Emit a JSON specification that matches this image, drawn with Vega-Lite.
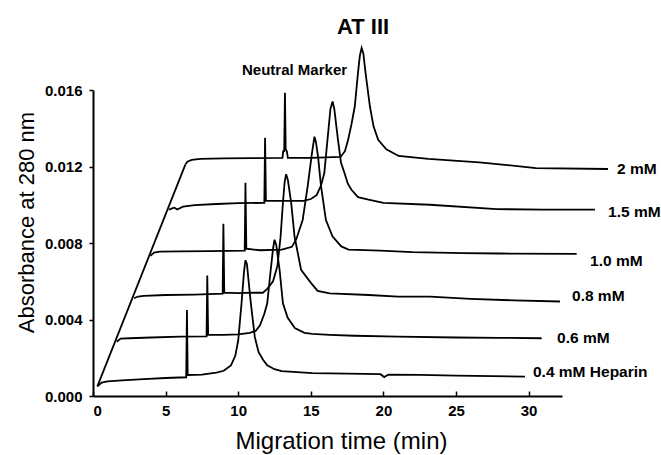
{
  "$schema": "https://vega.github.io/schema/vega-lite/v6.json",
  "width": 469,
  "height": 306,
  "autosize": {"type": "none"},
  "padding": {"left": 93, "top": 90, "right": 99, "bottom": 59},
  "background": "white",
  "title": {"text": "AT III", "anchor": "start", "frame": "group", "dx": 244, "dy": 27, "offset": 15, "baseline": "alphabetic", "fontSize": 22, "fontWeight": "bold", "font": "Liberation Sans", "color": "black"},
  "config": {"view": {"stroke": null}, "font": "Liberation Sans"},
  "datasets": {
    "traces": [
      {"trace": "start", "t": 0.3, "a": 0.0005},
      {"trace": "start", "t": 6.36, "a": 0.0121},

      {"trace": "0.4 mM", "t": 0.3, "a": 0.0005},
      {"trace": "0.4 mM", "t": 0.6, "a": 0.0007},
      {"trace": "0.4 mM", "t": 1.0, "a": 0.00076},
      {"trace": "0.4 mM", "t": 2.0, "a": 0.00082},
      {"trace": "0.4 mM", "t": 3.5, "a": 0.00088},
      {"trace": "0.4 mM", "t": 5.0, "a": 0.00094},
      {"trace": "0.4 mM", "t": 6.42, "a": 0.00098},
      {"trace": "0.4 mM", "t": 6.47, "a": 0.0045},
      {"trace": "0.4 mM", "t": 6.52, "a": 0.0011},
      {"trace": "0.4 mM", "t": 7.5, "a": 0.00112},
      {"trace": "0.4 mM", "t": 8.5, "a": 0.00122},
      {"trace": "0.4 mM", "t": 9.0, "a": 0.00132},
      {"trace": "0.4 mM", "t": 9.5, "a": 0.0016},
      {"trace": "0.4 mM", "t": 9.8, "a": 0.0021},
      {"trace": "0.4 mM", "t": 10.0, "a": 0.0029},
      {"trace": "0.4 mM", "t": 10.23, "a": 0.00485},
      {"trace": "0.4 mM", "t": 10.4, "a": 0.0065},
      {"trace": "0.4 mM", "t": 10.5, "a": 0.0071},
      {"trace": "0.4 mM", "t": 10.6, "a": 0.0069},
      {"trace": "0.4 mM", "t": 10.87, "a": 0.00485},
      {"trace": "0.4 mM", "t": 11.14, "a": 0.0031},
      {"trace": "0.4 mM", "t": 11.4, "a": 0.0023},
      {"trace": "0.4 mM", "t": 11.71, "a": 0.0019},
      {"trace": "0.4 mM", "t": 12.0, "a": 0.0016},
      {"trace": "0.4 mM", "t": 12.5, "a": 0.0014},
      {"trace": "0.4 mM", "t": 13.0, "a": 0.0013},
      {"trace": "0.4 mM", "t": 15.1, "a": 0.0012},
      {"trace": "0.4 mM", "t": 17.5, "a": 0.00117},
      {"trace": "0.4 mM", "t": 19.8, "a": 0.00114},
      {"trace": "0.4 mM", "t": 20.05, "a": 0.00099},
      {"trace": "0.4 mM", "t": 20.35, "a": 0.00112},
      {"trace": "0.4 mM", "t": 22.5, "a": 0.0011},
      {"trace": "0.4 mM", "t": 25.0, "a": 0.00107},
      {"trace": "0.4 mM", "t": 27.5, "a": 0.00104},
      {"trace": "0.4 mM", "t": 29.75, "a": 0.00101},

      {"trace": "0.6 mM", "t": 1.64, "a": 0.00284},
      {"trace": "0.6 mM", "t": 1.9, "a": 0.003},
      {"trace": "0.6 mM", "t": 2.5, "a": 0.00302},
      {"trace": "0.6 mM", "t": 4.0, "a": 0.00306},
      {"trace": "0.6 mM", "t": 6.0, "a": 0.0031},
      {"trace": "0.6 mM", "t": 7.82, "a": 0.00312},
      {"trace": "0.6 mM", "t": 7.87, "a": 0.0063},
      {"trace": "0.6 mM", "t": 7.93, "a": 0.0032},
      {"trace": "0.6 mM", "t": 9.0, "a": 0.0032},
      {"trace": "0.6 mM", "t": 10.0, "a": 0.00322},
      {"trace": "0.6 mM", "t": 10.8, "a": 0.0033},
      {"trace": "0.6 mM", "t": 11.2, "a": 0.0034},
      {"trace": "0.6 mM", "t": 11.5, "a": 0.0037},
      {"trace": "0.6 mM", "t": 11.8, "a": 0.0043},
      {"trace": "0.6 mM", "t": 12.0, "a": 0.00485},
      {"trace": "0.6 mM", "t": 12.24, "a": 0.0066},
      {"trace": "0.6 mM", "t": 12.4, "a": 0.0077},
      {"trace": "0.6 mM", "t": 12.5, "a": 0.00817},
      {"trace": "0.6 mM", "t": 12.62, "a": 0.0079},
      {"trace": "0.6 mM", "t": 12.85, "a": 0.0066},
      {"trace": "0.6 mM", "t": 13.08, "a": 0.00485},
      {"trace": "0.6 mM", "t": 13.4, "a": 0.0041},
      {"trace": "0.6 mM", "t": 13.9, "a": 0.00355},
      {"trace": "0.6 mM", "t": 14.56, "a": 0.0033},
      {"trace": "0.6 mM", "t": 15.1, "a": 0.00325},
      {"trace": "0.6 mM", "t": 16.3, "a": 0.0032},
      {"trace": "0.6 mM", "t": 18.0, "a": 0.00315},
      {"trace": "0.6 mM", "t": 21.0, "a": 0.0031},
      {"trace": "0.6 mM", "t": 25.0, "a": 0.00306},
      {"trace": "0.6 mM", "t": 28.0, "a": 0.00304},
      {"trace": "0.6 mM", "t": 30.9, "a": 0.00302},

      {"trace": "0.8 mM", "t": 2.83, "a": 0.00511},
      {"trace": "0.8 mM", "t": 3.1, "a": 0.0052},
      {"trace": "0.8 mM", "t": 3.5, "a": 0.00524},
      {"trace": "0.8 mM", "t": 5.0, "a": 0.00528},
      {"trace": "0.8 mM", "t": 7.0, "a": 0.0053},
      {"trace": "0.8 mM", "t": 8.93, "a": 0.00535},
      {"trace": "0.8 mM", "t": 8.98, "a": 0.009},
      {"trace": "0.8 mM", "t": 9.04, "a": 0.0054},
      {"trace": "0.8 mM", "t": 10.0, "a": 0.00538},
      {"trace": "0.8 mM", "t": 11.0, "a": 0.0054},
      {"trace": "0.8 mM", "t": 11.7, "a": 0.0054},
      {"trace": "0.8 mM", "t": 12.0, "a": 0.0056},
      {"trace": "0.8 mM", "t": 12.4, "a": 0.006},
      {"trace": "0.8 mM", "t": 12.7, "a": 0.0068},
      {"trace": "0.8 mM", "t": 12.92, "a": 0.00834},
      {"trace": "0.8 mM", "t": 13.08, "a": 0.0101},
      {"trace": "0.8 mM", "t": 13.2, "a": 0.0112},
      {"trace": "0.8 mM", "t": 13.3, "a": 0.0116},
      {"trace": "0.8 mM", "t": 13.42, "a": 0.0113},
      {"trace": "0.8 mM", "t": 13.65, "a": 0.0101},
      {"trace": "0.8 mM", "t": 13.88, "a": 0.00834},
      {"trace": "0.8 mM", "t": 14.33, "a": 0.0066},
      {"trace": "0.8 mM", "t": 15.02, "a": 0.0059},
      {"trace": "0.8 mM", "t": 15.47, "a": 0.0055},
      {"trace": "0.8 mM", "t": 16.3, "a": 0.00537},
      {"trace": "0.8 mM", "t": 19.0, "a": 0.00528},
      {"trace": "0.8 mM", "t": 21.0, "a": 0.0052},
      {"trace": "0.8 mM", "t": 23.2, "a": 0.0052},
      {"trace": "0.8 mM", "t": 26.0, "a": 0.00508},
      {"trace": "0.8 mM", "t": 29.0, "a": 0.005},
      {"trace": "0.8 mM", "t": 32.16, "a": 0.00494},

      {"trace": "1.0 mM", "t": 3.96, "a": 0.00733},
      {"trace": "1.0 mM", "t": 4.2, "a": 0.0075},
      {"trace": "1.0 mM", "t": 4.6, "a": 0.00755},
      {"trace": "1.0 mM", "t": 6.0, "a": 0.00756},
      {"trace": "1.0 mM", "t": 8.0, "a": 0.00758},
      {"trace": "1.0 mM", "t": 10.45, "a": 0.0076},
      {"trace": "1.0 mM", "t": 10.5, "a": 0.01115},
      {"trace": "1.0 mM", "t": 10.56, "a": 0.0077},
      {"trace": "1.0 mM", "t": 11.5, "a": 0.00762},
      {"trace": "1.0 mM", "t": 13.0, "a": 0.00765},
      {"trace": "1.0 mM", "t": 13.7, "a": 0.0078},
      {"trace": "1.0 mM", "t": 14.0, "a": 0.0082},
      {"trace": "1.0 mM", "t": 14.44, "a": 0.0092},
      {"trace": "1.0 mM", "t": 14.79, "a": 0.011},
      {"trace": "1.0 mM", "t": 15.08, "a": 0.0127},
      {"trace": "1.0 mM", "t": 15.25, "a": 0.01356},
      {"trace": "1.0 mM", "t": 15.35, "a": 0.0133},
      {"trace": "1.0 mM", "t": 15.5, "a": 0.0125},
      {"trace": "1.0 mM", "t": 15.7, "a": 0.011},
      {"trace": "1.0 mM", "t": 16.04, "a": 0.0092},
      {"trace": "1.0 mM", "t": 16.5, "a": 0.00834},
      {"trace": "1.0 mM", "t": 17.1, "a": 0.00782},
      {"trace": "1.0 mM", "t": 17.6, "a": 0.00765},
      {"trace": "1.0 mM", "t": 19.8, "a": 0.0076},
      {"trace": "1.0 mM", "t": 22.0, "a": 0.00752},
      {"trace": "1.0 mM", "t": 25.5, "a": 0.00747},
      {"trace": "1.0 mM", "t": 28.0, "a": 0.00745},
      {"trace": "1.0 mM", "t": 33.31, "a": 0.00743},

      {"trace": "1.5 mM", "t": 5.22, "a": 0.00974},
      {"trace": "1.5 mM", "t": 5.4, "a": 0.0098},
      {"trace": "1.5 mM", "t": 5.6, "a": 0.00985},
      {"trace": "1.5 mM", "t": 5.8, "a": 0.00975},
      {"trace": "1.5 mM", "t": 6.2, "a": 0.0099},
      {"trace": "1.5 mM", "t": 7.0, "a": 0.00998},
      {"trace": "1.5 mM", "t": 8.5, "a": 0.01004},
      {"trace": "1.5 mM", "t": 10.0, "a": 0.01008},
      {"trace": "1.5 mM", "t": 11.8, "a": 0.0101},
      {"trace": "1.5 mM", "t": 11.85, "a": 0.0135},
      {"trace": "1.5 mM", "t": 11.91, "a": 0.0102},
      {"trace": "1.5 mM", "t": 13.0, "a": 0.0102},
      {"trace": "1.5 mM", "t": 14.5, "a": 0.0102},
      {"trace": "1.5 mM", "t": 15.0, "a": 0.0103},
      {"trace": "1.5 mM", "t": 15.4, "a": 0.0105},
      {"trace": "1.5 mM", "t": 15.7, "a": 0.011},
      {"trace": "1.5 mM", "t": 15.93, "a": 0.01166},
      {"trace": "1.5 mM", "t": 16.15, "a": 0.0134},
      {"trace": "1.5 mM", "t": 16.35, "a": 0.015},
      {"trace": "1.5 mM", "t": 16.5, "a": 0.0154},
      {"trace": "1.5 mM", "t": 16.62, "a": 0.015},
      {"trace": "1.5 mM", "t": 16.87, "a": 0.0134},
      {"trace": "1.5 mM", "t": 17.08, "a": 0.0122},
      {"trace": "1.5 mM", "t": 17.32, "a": 0.01166},
      {"trace": "1.5 mM", "t": 17.55, "a": 0.0111},
      {"trace": "1.5 mM", "t": 17.8, "a": 0.01078},
      {"trace": "1.5 mM", "t": 18.25, "a": 0.0104},
      {"trace": "1.5 mM", "t": 19.05, "a": 0.01026},
      {"trace": "1.5 mM", "t": 20.0, "a": 0.0101},
      {"trace": "1.5 mM", "t": 23.2, "a": 0.01},
      {"trace": "1.5 mM", "t": 27.8, "a": 0.00977},
      {"trace": "1.5 mM", "t": 31.0, "a": 0.00975},
      {"trace": "1.5 mM", "t": 34.57, "a": 0.00974},

      {"trace": "2 mM", "t": 6.36, "a": 0.0121},
      {"trace": "2 mM", "t": 6.5, "a": 0.01225},
      {"trace": "2 mM", "t": 6.8, "a": 0.01235},
      {"trace": "2 mM", "t": 7.4, "a": 0.0124},
      {"trace": "2 mM", "t": 9.0, "a": 0.01242},
      {"trace": "2 mM", "t": 11.0, "a": 0.01244},
      {"trace": "2 mM", "t": 13.05, "a": 0.01245},
      {"trace": "2 mM", "t": 13.1, "a": 0.0128},
      {"trace": "2 mM", "t": 13.17, "a": 0.0128},
      {"trace": "2 mM", "t": 13.22, "a": 0.01585},
      {"trace": "2 mM", "t": 13.27, "a": 0.0129},
      {"trace": "2 mM", "t": 13.35, "a": 0.0128},
      {"trace": "2 mM", "t": 13.42, "a": 0.01245},
      {"trace": "2 mM", "t": 15.0, "a": 0.01245},
      {"trace": "2 mM", "t": 17.05, "a": 0.0125},
      {"trace": "2 mM", "t": 17.35, "a": 0.0128},
      {"trace": "2 mM", "t": 17.57, "a": 0.0134},
      {"trace": "2 mM", "t": 17.8, "a": 0.0142},
      {"trace": "2 mM", "t": 18.03, "a": 0.01515},
      {"trace": "2 mM", "t": 18.25, "a": 0.0169},
      {"trace": "2 mM", "t": 18.38, "a": 0.0178},
      {"trace": "2 mM", "t": 18.5, "a": 0.0182},
      {"trace": "2 mM", "t": 18.62, "a": 0.0179},
      {"trace": "2 mM", "t": 18.77, "a": 0.0169},
      {"trace": "2 mM", "t": 19.07, "a": 0.01515},
      {"trace": "2 mM", "t": 19.32, "a": 0.0141},
      {"trace": "2 mM", "t": 19.64, "a": 0.0134},
      {"trace": "2 mM", "t": 20.2, "a": 0.0129},
      {"trace": "2 mM", "t": 21.05, "a": 0.01255},
      {"trace": "2 mM", "t": 23.1, "a": 0.0124},
      {"trace": "2 mM", "t": 26.6, "a": 0.01222},
      {"trace": "2 mM", "t": 30.5, "a": 0.01192},
      {"trace": "2 mM", "t": 35.47, "a": 0.01187}
    ],
    "labels": [
      {"label": "2 mM", "t": 36.09, "a": 0.01188},
      {"label": "1.5 mM", "t": 35.47, "a": 0.00963},
      {"label": "1.0 mM", "t": 34.23, "a": 0.00707},
      {"label": "0.8 mM", "t": 32.99, "a": 0.00524},
      {"label": "0.6 mM", "t": 31.96, "a": 0.00304},
      {"label": "0.4 mM Heparin", "t": 30.3, "a": 0.00126}
    ],
    "notes": [
      {"note": "Neutral Marker", "t": 13.88, "a": 0.01702}
    ]
  },
  "layer": [
    {
      "data": {"name": "traces"},
      "mark": {"type": "line", "color": "black", "strokeWidth": 1.8, "clip": false},
      "encoding": {
        "x": {
          "field": "t", "type": "quantitative",
          "scale": {"domain": [0, 32.3], "nice": false, "zero": false},
          "axis": {
            "values": [0, 2.5, 5, 7.5, 10, 12.5, 15, 17.5, 20, 22.5, 25, 27.5, 30],
            "labelExpr": "datum.value % 5 === 0 ? format(datum.value, 'd') : ''",
            "grid": false,
            "domainColor": "black", "domainWidth": 2,
            "tickColor": "black", "tickWidth": 1.5, "tickSize": -5,
            "labelPadding": 12,
            "labelFontSize": 15, "labelFontWeight": "bold", "labelColor": "black", "labelFont": "Liberation Sans",
            "title": "Migration time (min)",
            "titleFontSize": 24, "titleFontWeight": "normal", "titleColor": "black", "titleFont": "Liberation Sans",
            "titleX": 248, "titleY": 52, "titleAlign": "center", "titleBaseline": "alphabetic"
          }
        },
        "y": {
          "field": "a", "type": "quantitative",
          "scale": {"domain": [0, 0.016], "nice": false, "zero": false},
          "axis": {
            "values": [0, 0.002, 0.004, 0.006, 0.008, 0.01, 0.012, 0.014, 0.016],
            "labelExpr": "round(datum.value * 1000) % 4 === 0 ? format(datum.value, '.3f') : ''",
            "grid": false,
            "domainColor": "black", "domainWidth": 2,
            "tickColor": "black", "tickWidth": 1.5, "tickSize": 4,
            "labelPadding": 7,
            "labelFontSize": 15, "labelFontWeight": "bold", "labelColor": "black", "labelFont": "Liberation Sans",
            "title": "Absorbance at 280 nm",
            "titleFontSize": 22, "titleFontWeight": "normal", "titleColor": "black", "titleFont": "Liberation Sans",
            "titleX": -60, "titleY": 132, "titleAlign": "center", "titleBaseline": "alphabetic"
          }
        },
        "detail": {"field": "trace"}
      }
    },
    {
      "data": {"name": "labels"},
      "mark": {"type": "text", "align": "left", "baseline": "middle", "fontSize": 15.5, "fontWeight": "bold", "color": "black", "font": "Liberation Sans", "clip": false},
      "encoding": {
        "x": {"field": "t", "type": "quantitative"},
        "y": {"field": "a", "type": "quantitative"},
        "text": {"field": "label"}
      }
    },
    {
      "data": {"name": "notes"},
      "mark": {"type": "text", "align": "center", "baseline": "middle", "fontSize": 15, "fontWeight": "bold", "color": "black", "font": "Liberation Sans", "clip": false},
      "encoding": {
        "x": {"field": "t", "type": "quantitative"},
        "y": {"field": "a", "type": "quantitative"},
        "text": {"field": "note"}
      }
    }
  ]
}
